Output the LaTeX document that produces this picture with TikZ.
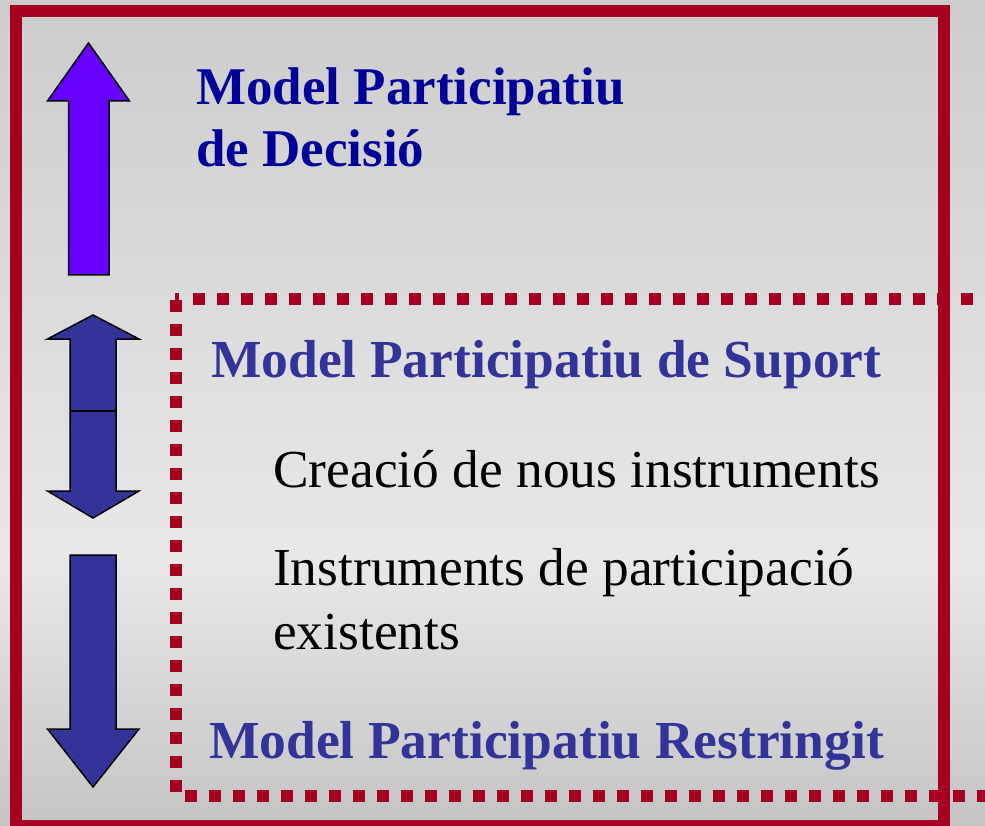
\documentclass[tikz,border=0pt]{standalone}
\usepackage{fontspec}
\setmainfont{Liberation Serif}
\definecolor{frame}{RGB}{165,0,33}
\definecolor{navy}{RGB}{0,0,153}
\definecolor{slate}{RGB}{51,51,153}
\definecolor{violet}{RGB}{102,0,255}
\begin{document}
\begin{tikzpicture}[x=1pt,y=-1pt,
  txt/.style={anchor=base west,inner sep=0pt,font=\fontsize{53.4}{62}\selectfont},
  headA/.style={txt,text=navy,font=\fontsize{53}{62}\selectfont\bfseries},
  headB/.style={txt,text=slate,font=\fontsize{53.5}{62}\selectfont\bfseries},
  arrowshape/.style={draw=black,line width=1.5pt,line join=miter},
  dots/.style={draw=frame,line width=12pt,dash pattern=on 12pt off 12pt}]
\useasboundingbox (0,0) rectangle (985,826);
% background gradient
\shade[top color={rgb,255:red,204;green,204;blue,204},bottom color={rgb,255:red,232;green,232;blue,232}] (0,0) rectangle (985,560);
\shade[top color={rgb,255:red,232;green,232;blue,232},bottom color={rgb,255:red,196;green,196;blue,196}] (0,560) rectangle (985,826);
% solid frame
\draw[frame,line width=12pt] (15.5,11) rectangle (944,826);
% dotted frame
\draw[dots] (193,299) -- (990,299);
\draw[dots] (175.5,300) -- (175.5,793);
\draw[dots] (185,795.5) -- (990,795.5);
\fill[frame] (175,293) rectangle (179,300);
% arrows
\draw[arrowshape,fill=violet] (68.5,275) -- (68.5,101) -- (47.5,101) -- (88.5,43) -- (129.5,101) -- (109,101) -- (109,275) -- cycle;
\draw[arrowshape,fill=slate] (93,315) -- (139,339) -- (116,339) -- (116,491) -- (139,491) -- (93,518) -- (47.5,491) -- (70,491) -- (70,339) -- (47.5,339) -- cycle;
\draw[line width=1.5pt] (70,411) -- (116,411);
\draw[arrowshape,fill=slate] (70,555) -- (116,555) -- (116,729) -- (139,729) -- (93,787) -- (47.5,729) -- (70,729) -- cycle;
% texts
\node[headA] (d1) at (196,105) {Model Participatiu};
\node[headA] (d2) at (196,167) {de Decisió};
\node[headB] (s1) at (211,377) {Model Participatiu de Suport};
\node[txt] (c1) at (273,487) {Creació de nous instruments};
\node[txt] (i1) at (273,585) {Instruments de participació};
\node[txt] (i2) at (273,649) {existents};
\node[headB] (r1) at (209,758) {Model Participatiu Restringit};
\end{tikzpicture}
\end{document}
